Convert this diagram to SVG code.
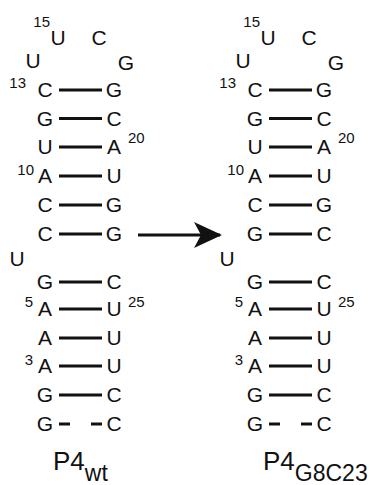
<svg xmlns="http://www.w3.org/2000/svg" width="376" height="485" viewBox="0 0 376 485">
  <style>
    text { font-family: "Liberation Sans", Arial, sans-serif; fill: #111; }
    .nt { font-size: 21px; text-anchor: middle; }
    .num { font-size: 15px; }
    .numr { font-size: 15px; text-anchor: end; }
    .bp { stroke: #111; stroke-width: 3; fill: none; }
    .lbl { font-size: 26px; }
    .sub { font-size: 23px; }
    .arrow { stroke: #111; stroke-width: 3; fill: none; }
  </style>
  <defs>
    <marker id="head" viewBox="0 0 28 26" refX="26" refY="13" markerWidth="28" markerHeight="26" markerUnits="userSpaceOnUse" orient="auto">
      <path d="M0,0 L28,13 L0,26 L7,13 Z" fill="#111"/>
    </marker>
  </defs>

  <rect width="376" height="485" fill="#fff"/>

  <!-- wild-type P4 hairpin -->
  <g id="p4wt">
    <g id="wt-loop">
      <text class="numr" x="50" y="27">15</text>
      <text class="nt" x="58" y="45">U</text>
      <text class="nt" x="99" y="45">C</text>
      <text class="nt" x="33" y="68">U</text>
      <text class="nt" x="126" y="70">G</text>
    </g>
    <g id="wt-bp13">
      <text class="numr" x="26" y="88">13</text>
      <text class="nt" x="45" y="97">C</text><line class="bp" x1="59" y1="90" x2="102" y2="90"/><text class="nt" x="114" y="97">G</text>
    </g>
    <g id="wt-bp14">
      <text class="nt" x="45" y="125.5">G</text><line class="bp" x1="59" y1="118.5" x2="102" y2="118.5"/><text class="nt" x="114" y="125.5">C</text>
    </g>
    <g id="wt-bp15">
      <text class="nt" x="45" y="154">U</text><line class="bp" x1="59" y1="147" x2="102" y2="147"/><text class="nt" x="114" y="154">A</text>
      <text class="num" x="128" y="143">20</text>
    </g>
    <g id="wt-bp10">
      <text class="numr" x="34" y="175">10</text>
      <text class="nt" x="45" y="183">A</text><line class="bp" x1="59" y1="176" x2="102" y2="176"/><text class="nt" x="114" y="183">U</text>
    </g>
    <g id="wt-bp9">
      <text class="nt" x="45" y="212">C</text><line class="bp" x1="59" y1="205" x2="102" y2="205"/><text class="nt" x="114" y="212">G</text>
    </g>
    <g id="wt-bp8">
      <text class="nt" x="45" y="241">C</text><line class="bp" x1="59" y1="234" x2="102" y2="234"/><text class="nt" x="114" y="241">G</text>
    </g>
    <g id="wt-bulge">
      <text class="nt" x="17" y="266">U</text>
    </g>
    <g id="wt-bp6">
      <text class="nt" x="45" y="289">G</text><line class="bp" x1="59" y1="282" x2="102" y2="282"/><text class="nt" x="114" y="289">C</text>
    </g>
    <g id="wt-bp5">
      <text class="numr" x="33" y="307">5</text>
      <text class="nt" x="45" y="316">A</text><line class="bp" x1="59" y1="309" x2="102" y2="309"/><text class="nt" x="114" y="316">U</text>
      <text class="num" x="128" y="307">25</text>
    </g>
    <g id="wt-bp4">
      <text class="nt" x="45" y="345">A</text><line class="bp" x1="59" y1="338" x2="102" y2="338"/><text class="nt" x="114" y="345">U</text>
    </g>
    <g id="wt-bp3">
      <text class="numr" x="33" y="365">3</text>
      <text class="nt" x="45" y="373">A</text><line class="bp" x1="59" y1="366" x2="102" y2="366"/><text class="nt" x="114" y="373">U</text>
    </g>
    <g id="wt-bp2">
      <text class="nt" x="45" y="402">G</text><line class="bp" x1="59" y1="395" x2="102" y2="395"/><text class="nt" x="114" y="402">C</text>
    </g>
    <g id="wt-bp1">
      <text class="nt" x="45" y="431">G</text>
      <line class="bp" x1="59" y1="424" x2="70" y2="424"/><line class="bp" x1="91" y1="424" x2="102" y2="424"/>
      <text class="nt" x="114" y="431">C</text>
    </g>
    <g id="wt-label">
      <text class="lbl" x="53" y="470">P4<tspan class="sub" dy="11">wt</tspan></text>
    </g>
  </g>

  <!-- G8C23 mutant hairpin -->
  <g id="p4g8c23" transform="translate(210,0)">
    <g id="mut-loop">
      <text class="numr" x="50" y="27">15</text>
      <text class="nt" x="58" y="45">U</text>
      <text class="nt" x="99" y="45">C</text>
      <text class="nt" x="33" y="68">U</text>
      <text class="nt" x="126" y="70">G</text>
    </g>
    <g id="mut-bp13">
      <text class="numr" x="26" y="88">13</text>
      <text class="nt" x="45" y="97">C</text><line class="bp" x1="59" y1="90" x2="102" y2="90"/><text class="nt" x="114" y="97">G</text>
    </g>
    <g id="mut-bp14">
      <text class="nt" x="45" y="125.5">G</text><line class="bp" x1="59" y1="118.5" x2="102" y2="118.5"/><text class="nt" x="114" y="125.5">C</text>
    </g>
    <g id="mut-bp15">
      <text class="nt" x="45" y="154">U</text><line class="bp" x1="59" y1="147" x2="102" y2="147"/><text class="nt" x="114" y="154">A</text>
      <text class="num" x="128" y="143">20</text>
    </g>
    <g id="mut-bp10">
      <text class="numr" x="34" y="175">10</text>
      <text class="nt" x="45" y="183">A</text><line class="bp" x1="59" y1="176" x2="102" y2="176"/><text class="nt" x="114" y="183">U</text>
    </g>
    <g id="mut-bp9">
      <text class="nt" x="45" y="212">C</text><line class="bp" x1="59" y1="205" x2="102" y2="205"/><text class="nt" x="114" y="212">G</text>
    </g>
    <g id="mut-bp8">
      <text class="nt" x="45" y="241">G</text><line class="bp" x1="59" y1="234" x2="102" y2="234"/><text class="nt" x="114" y="241">C</text>
    </g>
    <g id="mut-bulge">
      <text class="nt" x="17" y="266">U</text>
    </g>
    <g id="mut-bp6">
      <text class="nt" x="45" y="289">G</text><line class="bp" x1="59" y1="282" x2="102" y2="282"/><text class="nt" x="114" y="289">C</text>
    </g>
    <g id="mut-bp5">
      <text class="numr" x="33" y="307">5</text>
      <text class="nt" x="45" y="316">A</text><line class="bp" x1="59" y1="309" x2="102" y2="309"/><text class="nt" x="114" y="316">U</text>
      <text class="num" x="128" y="307">25</text>
    </g>
    <g id="mut-bp4">
      <text class="nt" x="45" y="345">A</text><line class="bp" x1="59" y1="338" x2="102" y2="338"/><text class="nt" x="114" y="345">U</text>
    </g>
    <g id="mut-bp3">
      <text class="numr" x="33" y="365">3</text>
      <text class="nt" x="45" y="373">A</text><line class="bp" x1="59" y1="366" x2="102" y2="366"/><text class="nt" x="114" y="373">U</text>
    </g>
    <g id="mut-bp2">
      <text class="nt" x="45" y="402">G</text><line class="bp" x1="59" y1="395" x2="102" y2="395"/><text class="nt" x="114" y="402">C</text>
    </g>
    <g id="mut-bp1">
      <text class="nt" x="45" y="431">G</text>
      <line class="bp" x1="59" y1="424" x2="70" y2="424"/><line class="bp" x1="91" y1="424" x2="102" y2="424"/>
      <text class="nt" x="114" y="431">C</text>
    </g>
    <g id="mut-label">
      <text class="lbl" x="53" y="470">P4<tspan class="sub" dy="11">G8C23</tspan></text>
    </g>
  </g>

  <!-- mutation arrow -->
  <g id="connectors">
    <line class="arrow" x1="138" y1="235" x2="220" y2="235" marker-end="url(#head)"/>
  </g>
</svg>
